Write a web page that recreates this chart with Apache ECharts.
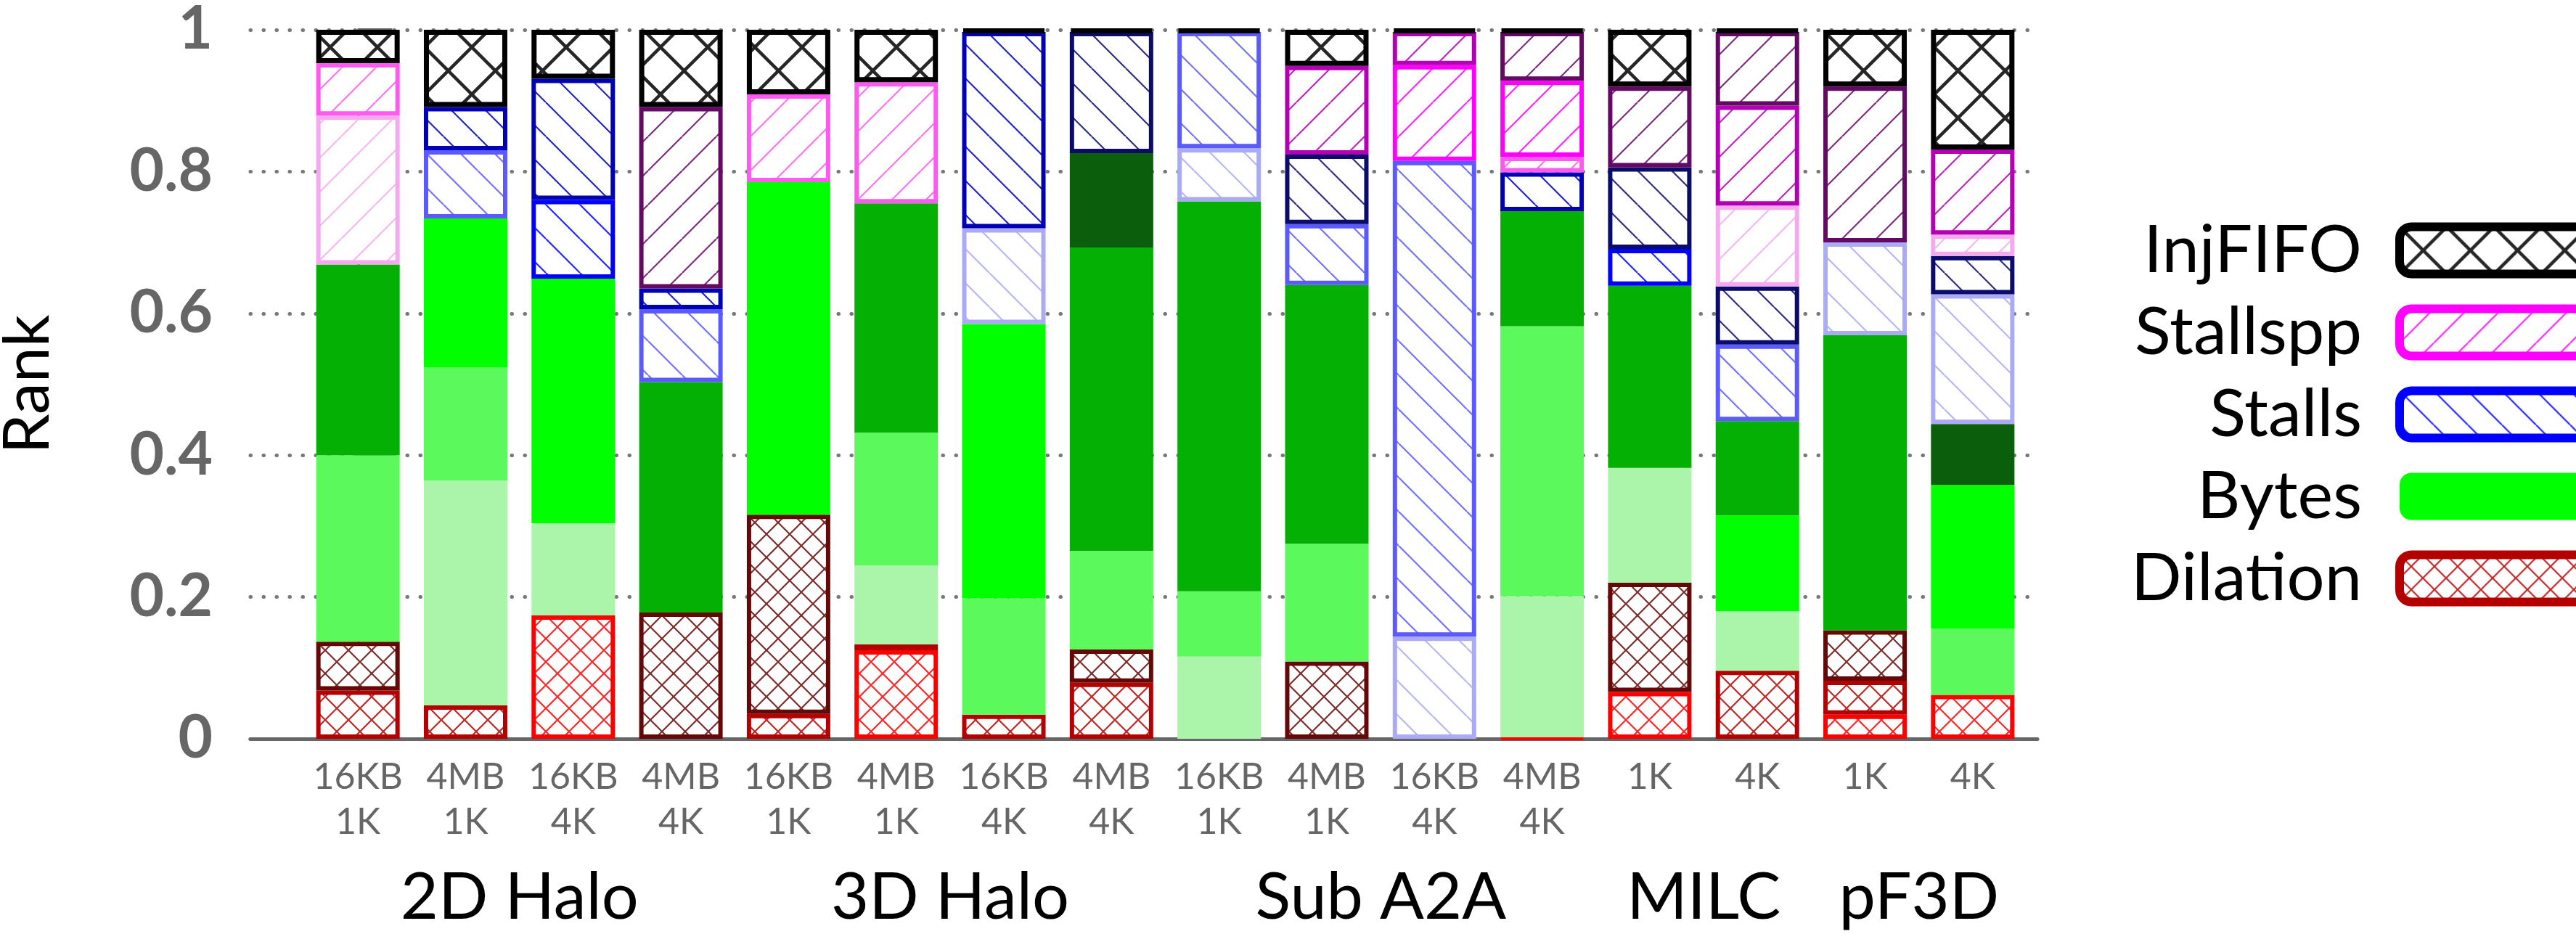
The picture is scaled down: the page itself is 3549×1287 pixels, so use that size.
<!DOCTYPE html>
<html>
<head>
<meta charset="utf-8">
<script src="https://cdn.jsdelivr.net/npm/echarts@6/dist/echarts.min.js"></script>
<style>
  html, body { margin: 0; padding: 0; background: #ffffff; }
  #chart { width: 3549px; height: 1287px; }
</style>
</head>
<body>
<div id="chart"></div>
<script>
// ---- data -------------------------------------------------------------
// configuration label under each bar (message size / node count)
const configLabels = [
  '16KB\n1K', '4MB\n1K', '16KB\n4K', '4MB\n4K',
  '16KB\n1K', '4MB\n1K', '16KB\n4K', '4MB\n4K',
  '16KB\n1K', '4MB\n1K', '16KB\n4K', '4MB\n4K',
  '1K', '4K',
  '1K', '4K'
];
// applications and how many configurations each one has
const groupNames = ['2D Halo', '3D Halo', 'Sub A2A', 'MILC', 'pF3D'];
const groupSizes = [4, 4, 4, 2, 2];
// metrics in legend order
const metricNames = ['InjFIFO', 'Stallspp', 'Stalls', 'Bytes', 'Dilation'];

// segment of each bar from the bottom up: metric letter + tier (0 = darkest)
// D = Dilation, B = Bytes, S = Stalls, P = Stallspp, I = InjFIFO
const segmentTiers = [
  ['D1', 'D0', 'B3', 'B1', 'P4', 'P3', 'I'],
  ['D1', 'B4', 'B3', 'B2', 'S3', 'S1', 'I'],
  ['D2', 'B4', 'B2', 'S2', 'S1', 'I'],
  ['D0', 'B1', 'S3', 'S1', 'P0', 'I'],
  ['D1', 'D0', 'B2', 'P3', 'I'],
  ['D2', 'D1', 'B4', 'B3', 'B1', 'P3', 'I'],
  ['D1', 'B3', 'B2', 'S4', 'S1', 'I'],
  ['D1', 'D0', 'B3', 'B1', 'B0', 'S0', 'I'],
  ['B4', 'B3', 'B1', 'S4', 'S3', 'I'],
  ['D0', 'B3', 'B1', 'S3', 'S0', 'P1', 'I'],
  ['S4', 'S3', 'P2', 'P1', 'I'],
  ['D2', 'B4', 'B3', 'B1', 'S1', 'P3', 'P2', 'P0', 'I'],
  ['D2', 'D0', 'B4', 'B1', 'S2', 'S0', 'P0', 'I'],
  ['D1', 'B4', 'B2', 'B1', 'S3', 'S0', 'P4', 'P1', 'P0', 'I'],
  ['D2', 'D1', 'D0', 'B1', 'S4', 'P0', 'I'],
  ['D2', 'B3', 'B2', 'B0', 'S4', 'S0', 'P4', 'P1', 'I']
];
// cumulative rank fraction at the top of each segment
const segmentTops = [
  [0.068, 0.137, 0.400, 0.669, 0.879, 0.953, 1],
  [0.047, 0.364, 0.524, 0.734, 0.830, 0.891, 1],
  [0.174, 0.304, 0.649, 0.760, 0.931, 1],
  [0.178, 0.503, 0.606, 0.635, 0.891, 1],
  [0.035, 0.316, 0.785, 0.909, 1],
  [0.125, 0.133, 0.244, 0.432, 0.755, 0.926, 1],
  [0.034, 0.198, 0.585, 0.720, 0.997, 1],
  [0.079, 0.126, 0.265, 0.693, 0.826, 0.997, 1],
  [0.116, 0.208, 0.758, 0.833, 0.997, 1],
  [0.109, 0.275, 0.640, 0.726, 0.824, 0.949, 1],
  [0.144, 0.815, 0.950, 0.997, 1],
  [0.002, 0.201, 0.582, 0.744, 0.799, 0.821, 0.928, 0.997, 1],
  [0.066, 0.220, 0.382, 0.639, 0.691, 0.806, 0.920, 1],
  [0.096, 0.180, 0.315, 0.448, 0.556, 0.638, 0.752, 0.893, 0.997, 1],
  [0.034, 0.082, 0.153, 0.569, 0.700, 0.920, 1],
  [0.062, 0.155, 0.358, 0.444, 0.627, 0.681, 0.711, 0.831, 1]
];

// ---- styling ----------------------------------------------------------
const FONT = 'Lato, "Open Sans", "DejaVu Sans", sans-serif';
const tierColors = {
  D0: '#640808', D1: '#b40000', D2: '#ff0000',
  B0: '#0b5e0b', B1: '#04b004', B2: '#00ff00', B3: '#5cf95c', B4: '#aaf5aa',
  S0: '#0b0b6b', S1: '#0000b4', S2: '#0000ff', S3: '#5a5aff', S4: '#aaaaf5',
  P0: '#640a64', P1: '#b400b4', P2: '#ff00ff', P3: '#ff5af0', P4: '#f5aaf0',
  I: '#000000'
};
const legendTier = { InjFIFO: 'I', Stallspp: 'P2', Stalls: 'S2', Bytes: 'B2', Dilation: 'D1' };

// hatch tiles: '/' rising lines, '\\' falling lines, 'x' both
const tileCache = {};
function hatchTile(kind, color, p, lw) {
  const key = kind + color + p + lw;
  if (tileCache[key]) return tileCache[key];
  const c = document.createElement('canvas');
  c.width = p; c.height = p;
  const g = c.getContext('2d');
  g.fillStyle = '#ffffff';
  g.fillRect(0, 0, p, p);
  g.strokeStyle = color;
  g.lineWidth = lw;
  g.globalAlpha = 0.85;
  g.beginPath();
  for (let x0 = -p; x0 <= p; x0 += p) {
    if (kind === '/' || kind === 'x') { g.moveTo(x0, p); g.lineTo(x0 + p, 0); }
    if (kind === '\\' || kind === 'x') { g.moveTo(x0, 0); g.lineTo(x0 + p, p); }
  }
  g.stroke();
  tileCache[key] = c;
  return c;
}

function segmentStyle(code) {
  const metric = code[0];
  const col = tierColors[code];
  if (metric === 'B') return { color: col, borderWidth: 0 };
  let img;
  if (metric === 'D') img = hatchTile('x', col, 32, 2.2);
  else if (metric === 'I') img = hatchTile('x', col, 65, 4.5);
  else if (metric === 'S') img = hatchTile('\\', col, 47, 2.2);
  else img = hatchTile('/', col, 47, 2.2);
  return {
    color: { image: img, repeat: 'repeat' },
    borderColor: col,
    borderWidth: metric === 'I' ? 7 : 6
  };
}

// ---- series -------------------------------------------------------------
const nLevels = Math.max(...segmentTiers.map(t => t.length));
const series = [];
for (let k = 0; k < nLevels; k++) {
  series.push({
    name: 'level' + k,
    type: 'bar',
    stack: 'rank',
    xAxisIndex: 0,
    yAxisIndex: 0,
    barWidth: 115,
    silent: true,
    data: segmentTiers.map((tiers, j) => {
      if (k >= tiers.length) return '-';
      const lo = k === 0 ? 0 : segmentTops[j][k - 1];
      return {
        value: +(segmentTops[j][k] - lo).toFixed(4),
        itemStyle: segmentStyle(tiers[k])
      };
    })
  });
}
// empty series that only carry the legend entries
metricNames.forEach(name => {
  series.push({
    name: name,
    type: 'bar',
    stack: 'rank',
    xAxisIndex: 0,
    yAxisIndex: 0,
    barWidth: 115,
    data: [],
    itemStyle: segmentStyle(legendTier[name])
  });
});

// centre of each application group in bar-index units
const groupCenters = [];
let startIdx = 0;
groupSizes.forEach(s => { groupCenters.push(startIdx + (s - 1) / 2); startIdx += s; });

const chart = echarts.init(document.getElementById('chart'), null, { renderer: 'canvas' });
chart.setOption({
  animation: false,
  backgroundColor: '#ffffff',
  grid: [
    // bars
    { left: 419, right: 757, top: 41, bottom: 269, containLabel: false, outerBoundsMode: 'none' },
    // frame: axes, grid lines, group names
    { left: 345, right: 742, top: 41, bottom: 269, containLabel: false, outerBoundsMode: 'none' }
  ],
  xAxis: [
    {
      type: 'category', gridIndex: 0, data: configLabels,
      axisLine: { show: false }, axisTick: { show: false }, splitLine: { show: false },
      axisLabel: { interval: 0, color: '#666666', fontSize: 50, lineHeight: 62, margin: 22, fontFamily: FONT }
    },
    {
      type: 'value', gridIndex: 1, min: -1, max: 15.6, interval: 0.5,
      axisLine: { show: true, onZero: false, lineStyle: { color: '#666666', width: 5 } },
      axisTick: { show: false }, splitLine: { show: false },
      axisLabel: {
        color: '#000000', fontSize: 90, lineHeight: 100, margin: 169, fontFamily: FONT,
        showMinLabel: true, showMaxLabel: true,
        formatter: v => {
          const i = groupCenters.findIndex(c => Math.abs(c - v) < 1e-6);
          return i >= 0 ? groupNames[i] : '';
        }
      }
    }
  ],
  yAxis: [
    { type: 'value', gridIndex: 0, min: 0, max: 1, show: false },
    {
      type: 'value', gridIndex: 1, min: 0, max: 1, interval: 0.2,
      name: 'Rank', nameLocation: 'middle', nameGap: 262, nameRotate: 90,
      nameTextStyle: { color: '#000000', fontSize: 88, fontFamily: FONT },
      axisLine: { show: true, lineStyle: { color: '#666666', width: 4 } },
      axisTick: { show: true, inside: true, length: 47, lineStyle: { color: '#666666', width: 4 } },
      axisLabel: { color: '#666666', fontSize: 82, fontWeight: 'bold', margin: 52, fontFamily: FONT },
      splitLine: { show: true, lineStyle: { color: '#777777', width: 5, type: [0.5, 17.5], cap: 'round' } }
    }
  ],
  legend: {
    orient: 'vertical',
    align: 'right',
    right: -63,
    top: 299,
    padding: 0,
    itemWidth: 300,
    itemHeight: 65,
    itemGap: 21,
    selectedMode: false,
    data: metricNames.map(n => ({ name: n, itemStyle: { borderWidth: n === 'Bytes' ? 0 : 12 } })),
    textStyle: { color: '#000000', fontSize: 92, lineHeight: 65, fontFamily: FONT, padding: [0, 47, 0, 0] }
  },
  series: series
});
</script>
</body>
</html>
